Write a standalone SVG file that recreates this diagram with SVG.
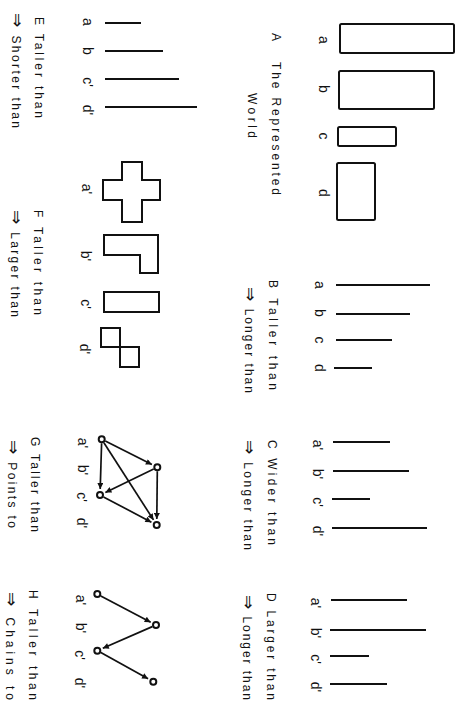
<svg xmlns="http://www.w3.org/2000/svg" width="467" height="705" viewBox="0 0 467 705">
<style>
.cap{font-family:"Liberation Sans","DejaVu Sans",sans-serif;font-size:12px;fill:#111}
.arr{font-family:"DejaVu Sans",sans-serif;font-size:17px}
.lbl{font-family:"Liberation Sans","DejaVu Sans",sans-serif;font-size:14px;fill:#111;text-anchor:middle}
.shape{fill:none;stroke:#111;stroke-width:2}
.bar{stroke:#111;stroke-width:1.9;fill:none}
.node{fill:#fff;stroke:#111;stroke-width:2}
.edge{stroke:#111;stroke-width:1.7;fill:none;marker-end:url(#ah)}
</style>
<defs>
<marker id="ah" viewBox="0 0 10 10" refX="10" refY="5" markerWidth="8" markerHeight="6" orient="auto" markerUnits="userSpaceOnUse">
<path d="M0,0 L10,5 L0,10 z" fill="#111"/>
</marker>
</defs>
<rect width="467" height="705" fill="#fff"/>

<!-- Panel A -->
<g id="panelA">
<rect class="shape" x="340" y="24" width="114" height="29" rx="1.5"/>
<rect class="shape" x="339" y="71" width="95" height="38" rx="1.5"/>
<rect class="shape" x="338" y="127" width="58" height="19" rx="1.5"/>
<rect class="shape" x="337" y="163" width="38" height="57" rx="1.5"/>
<text class="lbl" transform="translate(319,40) rotate(90)">a</text>
<text class="lbl" transform="translate(319,89) rotate(90)">b</text>
<text class="lbl" transform="translate(319,136) rotate(90)">c</text>
<text class="lbl" transform="translate(319,193) rotate(90)">d</text>
<text class="cap" transform="translate(272,33) rotate(90)">A</text>
<text class="cap" transform="translate(272,62) rotate(90)" textLength="133" lengthAdjust="spacing">The Represented</text>
<text class="cap" transform="translate(248,93) rotate(90)" textLength="45" lengthAdjust="spacing">World</text>
</g>

<!-- Panel B -->
<g id="panelB">
<line class="bar" x1="336" y1="285" x2="430" y2="285"/>
<line class="bar" x1="336" y1="314" x2="410" y2="314"/>
<line class="bar" x1="336" y1="340" x2="392" y2="340"/>
<line class="bar" x1="334" y1="368" x2="372" y2="368"/>
<text class="lbl" transform="translate(315,285) rotate(90)">a</text>
<text class="lbl" transform="translate(315,313) rotate(90)">b</text>
<text class="lbl" transform="translate(315,340) rotate(90)">c</text>
<text class="lbl" transform="translate(315,368) rotate(90)">d</text>
<text class="cap" transform="translate(269,280) rotate(90)" textLength="110" lengthAdjust="spacing">B Taller than</text>
<text class="cap" transform="translate(245,287) rotate(90)" textLength="106" lengthAdjust="spacing"><tspan class="arr">⇒</tspan> Longer than</text>
</g>

<!-- Panel C -->
<g id="panelC">
<line class="bar" x1="333" y1="442" x2="390" y2="442"/>
<line class="bar" x1="333" y1="471" x2="409" y2="471"/>
<line class="bar" x1="332" y1="499" x2="370" y2="499"/>
<line class="bar" x1="332" y1="528" x2="427" y2="528"/>
<text class="lbl" transform="translate(313,445) rotate(90)">a'</text>
<text class="lbl" transform="translate(313,474) rotate(90)">b'</text>
<text class="lbl" transform="translate(313,502) rotate(90)">c'</text>
<text class="lbl" transform="translate(313,531) rotate(90)">d'</text>
<text class="cap" transform="translate(268,440) rotate(90)" textLength="105" lengthAdjust="spacing">C Wider than</text>
<text class="cap" transform="translate(244,440) rotate(90)" textLength="110" lengthAdjust="spacing"><tspan class="arr">⇒</tspan> Longer than</text>
</g>

<!-- Panel D -->
<g id="panelD">
<line class="bar" x1="331" y1="600" x2="407" y2="600"/>
<line class="bar" x1="330" y1="630" x2="426" y2="630"/>
<line class="bar" x1="330" y1="656" x2="369" y2="656"/>
<line class="bar" x1="330" y1="684" x2="387" y2="684"/>
<text class="lbl" transform="translate(311,603) rotate(90)">a'</text>
<text class="lbl" transform="translate(311,633) rotate(90)">b'</text>
<text class="lbl" transform="translate(311,659) rotate(90)">c'</text>
<text class="lbl" transform="translate(311,687) rotate(90)">d'</text>
<text class="cap" transform="translate(267,593) rotate(90)" textLength="107" lengthAdjust="spacing">D Larger than</text>
<text class="cap" transform="translate(243,595) rotate(90)" textLength="105" lengthAdjust="spacing"><tspan class="arr">⇒</tspan> Longer than</text>
</g>

<!-- Panel E -->
<g id="panelE">
<line class="bar" x1="105" y1="23" x2="141" y2="23"/>
<line class="bar" x1="105" y1="51" x2="163" y2="51"/>
<line class="bar" x1="105" y1="79" x2="179" y2="79"/>
<line class="bar" x1="105" y1="107" x2="197" y2="107"/>
<text class="lbl" transform="translate(83,22) rotate(90)">a</text>
<text class="lbl" transform="translate(83,51) rotate(90)">b</text>
<text class="lbl" transform="translate(83,82) rotate(90)">c'</text>
<text class="lbl" transform="translate(83,110) rotate(90)">d'</text>
<text class="cap" transform="translate(35,17) rotate(90)" textLength="101" lengthAdjust="spacing">E Taller than</text>
<text class="cap" transform="translate(12,13) rotate(90)" textLength="115" lengthAdjust="spacing"><tspan class="arr">⇒</tspan> Shorter than</text>
</g>

<!-- Panel F -->
<g id="panelF">
<path class="shape" d="M122,162 H142 V180 H160 V200 H142 V222 H122 V200 H103 V180 H122 Z"/>
<path class="shape" d="M104,235 H158 V273 H140 V255 H104 Z"/>
<rect class="shape" x="104" y="292" width="55" height="20"/>
<path class="shape" d="M101,328 H120 V347 H139 V367 H120 V347 H101 Z"/>
<text class="lbl" transform="translate(82,189) rotate(90)">a'</text>
<text class="lbl" transform="translate(81,256) rotate(90)">b'</text>
<text class="lbl" transform="translate(81,304) rotate(90)">c'</text>
<text class="lbl" transform="translate(80,349) rotate(90)">d'</text>
<text class="cap" transform="translate(34,210) rotate(90)" textLength="105" lengthAdjust="spacing">F Taller than</text>
<text class="cap" transform="translate(11,210) rotate(90)" textLength="107" lengthAdjust="spacing"><tspan class="arr">⇒</tspan> Larger than</text>
</g>

<!-- Panel G -->
<g id="panelG">
<text class="lbl" transform="translate(78,443) rotate(90)">a'</text>
<text class="lbl" transform="translate(78,470) rotate(90)">b'</text>
<text class="lbl" transform="translate(77,497) rotate(90)">c'</text>
<text class="lbl" transform="translate(77,523) rotate(90)">d'</text>
<text class="cap" transform="translate(31,437) rotate(90)" textLength="95" lengthAdjust="spacing">G Taller than</text>
<text class="cap" transform="translate(8,440) rotate(90)" textLength="88" lengthAdjust="spacing"><tspan class="arr">⇒</tspan> Points to</text>
</g>
<g id="G-a"><circle class="node" cx="101.7" cy="439.3" r="3"/></g>
<g id="G-b"><circle class="node" cx="157.3" cy="467.3" r="3"/></g>
<g id="G-c"><circle class="node" cx="100" cy="495" r="3"/></g>
<g id="G-d"><circle class="node" cx="156.7" cy="525" r="3"/></g>

<!-- Panel H -->
<g id="panelH">
<text class="lbl" transform="translate(76,600) rotate(90)">a'</text>
<text class="lbl" transform="translate(76,628) rotate(90)">b'</text>
<text class="lbl" transform="translate(75,655) rotate(90)">c'</text>
<text class="lbl" transform="translate(75,683) rotate(90)">d'</text>
<text class="cap" transform="translate(29,590) rotate(90)" textLength="110" lengthAdjust="spacing">H Taller than</text>
<text class="cap" transform="translate(6,592) rotate(90)" textLength="108" lengthAdjust="spacing"><tspan class="arr">⇒</tspan> Chains to</text>
</g>
<g id="H-a"><circle class="node" cx="97.3" cy="594" r="3"/></g>
<g id="H-b"><circle class="node" cx="156" cy="625" r="3"/></g>
<g id="H-c"><circle class="node" cx="97.3" cy="650.7" r="3"/></g>
<g id="H-d"><circle class="node" cx="153.3" cy="681.7" r="3"/></g>

<g id="connectors">
<line class="edge" x1="105.3" y1="441.1" x2="151.9" y2="464.6"/>
<line class="edge" x1="101.6" y1="443.3" x2="100.2" y2="489.0"/>
<line class="edge" x1="103.9" y1="442.7" x2="153.5" y2="519.9"/>
<line class="edge" x1="153.7" y1="469.0" x2="105.4" y2="492.4"/>
<line class="edge" x1="157.3" y1="471.3" x2="156.8" y2="519.0"/>
<line class="edge" x1="103.5" y1="496.9" x2="151.4" y2="522.2"/>
<line class="edge" x1="100.8" y1="595.9" x2="150.7" y2="622.2"/>
<line class="edge" x1="152.3" y1="626.6" x2="102.8" y2="648.3"/>
<line class="edge" x1="100.8" y1="652.6" x2="148.1" y2="678.8"/>
</g>
</svg>
